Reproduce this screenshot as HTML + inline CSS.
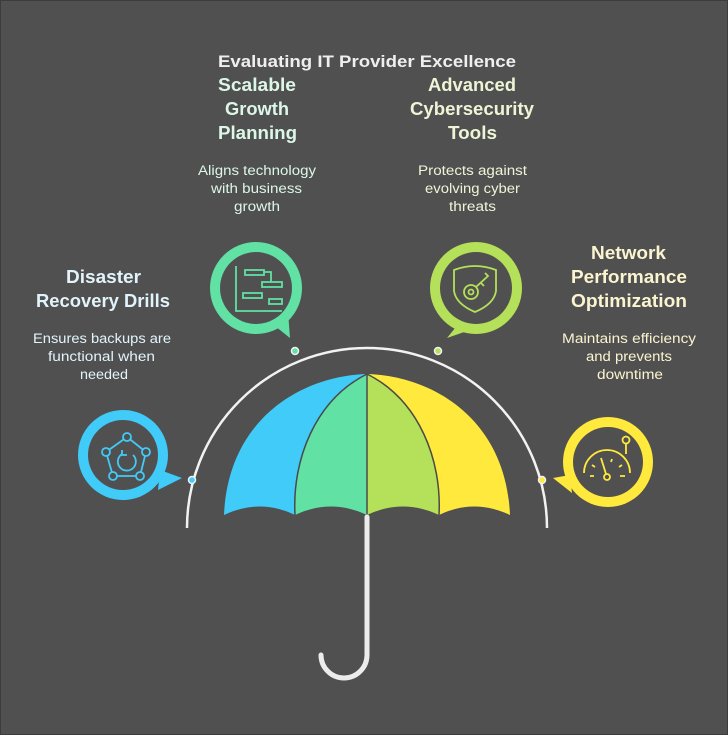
<!DOCTYPE html>
<html><head><meta charset="utf-8"><style>
html,body{margin:0;padding:0;background:#505050;}
svg{display:block}
text{font-family:"Liberation Sans",sans-serif;text-anchor:start}
.h{font-weight:bold;font-size:18px}
.b{font-size:13.5px}
</style></head><body>
<svg width="728" height="735" viewBox="0 0 728 735" xmlns="http://www.w3.org/2000/svg">
<rect x="0.5" y="0.5" width="727" height="734" fill="#505050" stroke="#3c3c3c"/>
<path d="M187 528 A180 180 0 0 1 547 528" fill="none" stroke="#f2f2f2" stroke-width="2.5"/>
<path d="M367 374 C300 376 228 420 224 515 Q260 498 295 515 C292 460 315 400 367 374Z" fill="#40cbf9"/>
<path d="M367 374 C315 400 292 460 295 515 Q331 498 367 515Z" fill="#61e1a4"/>
<path d="M367 374 L367 515 Q403 498 439 515 C442 460 419 400 367 374Z" fill="#b4e05a"/>
<path d="M367 374 C434 376 506 420 510 515 Q474 498 439 515 C442 460 419 400 367 374Z" fill="#ffe93c"/>
<path d="M367 374 C315 400 292 460 295 515 M367 374 L367 515 M367 374 C419 400 442 460 439 515" fill="none" stroke="#4a4a4a" stroke-width="1.5"/>
<path d="M367 517 L367 655 A23 23 0 0 1 321 655" fill="none" stroke="#ececec" stroke-width="5" stroke-linecap="round"/>
<circle cx="192" cy="480" r="3.5" fill="#40cbf9" stroke="#f2f2f2" stroke-width="1.5"/>
<circle cx="295" cy="351" r="3.5" fill="#61e1a4" stroke="#f2f2f2" stroke-width="1.5"/>
<circle cx="438" cy="351" r="3.5" fill="#b4e05a" stroke="#f2f2f2" stroke-width="1.5"/>
<circle cx="542" cy="480" r="3.5" fill="#ffe93c" stroke="#f2f2f2" stroke-width="1.5"/>
<g>
<circle cx="256" cy="288" r="46" fill="#61e1a4"/><path d="M270 322 L290 338 L288 312Z" fill="#61e1a4"/>
<circle cx="256" cy="288" r="36" fill="#505050"/>
<g fill="none" stroke="#61e1a4" stroke-width="1.8">
<path d="M236 266 V311 H282"/><rect x="245" y="270" width="19" height="5"/><rect x="262" y="282" width="20" height="5"/><rect x="243" y="293" width="19" height="5"/><rect x="269" y="299" width="13" height="5"/><path d="M264 272 H271 V282"/>
</g>
</g>
<g>
<circle cx="476" cy="288" r="46" fill="#b4e05a"/><path d="M460 322 L447 338 L470 330Z" fill="#b4e05a"/>
<circle cx="476" cy="288" r="36" fill="#505050"/>
<g fill="none" stroke="#b4e05a" stroke-width="1.8">
<path d="M454 270 Q475 262 496 270 V291 Q494 304 475 312 Q456 304 454 291Z"/><circle cx="471" cy="292" r="7"/><circle cx="471" cy="292" r="2.5"/><path d="M476 287 L488 276 L485 273 M481 283 L484 286"/>
</g>
</g>
<g>
<circle cx="123" cy="455" r="45" fill="#40cbf9"/><path d="M160 470 L182 478 L158 490Z" fill="#40cbf9"/>
<circle cx="123" cy="455" r="35" fill="#505050"/>
<g fill="none" stroke="#40cbf9" stroke-width="1.8">
<path d="M127 437 L146 452 L140 476 L113 476 L106 452Z"/>
<circle cx="127" cy="437" r="4" fill="#505050"/><circle cx="146" cy="452" r="4" fill="#505050"/><circle cx="140" cy="476" r="4" fill="#505050"/><circle cx="113" cy="476" r="4" fill="#505050"/><circle cx="106" cy="452" r="4" fill="#505050"/>
<path d="M122 454 A9 9 0 1 0 133 455"/><path d="M122 450 L122 455 L127 455"/>
</g>
</g>
<g>
<circle cx="608" cy="462" r="45" fill="#ffe93c"/><path d="M570 475 L553 478 L572 493Z" fill="#ffe93c"/>
<circle cx="608" cy="462" r="35" fill="#505050"/>
<g fill="none" stroke="#ffe93c" stroke-width="1.8">
<circle cx="626" cy="440" r="3.5"/><path d="M626 444 V454"/><path d="M584 473 A22 22 0 0 1 630 473"/>
<path d="M601 458 L606 474"/><circle cx="607" cy="477" r="3"/>
<path d="M590 476 H594 M620 476 H625 M592 465 L595 467 M622 465 L619 467 M612 459 L611 462"/>
</g>
</g>
<text x="218" y="67" font-weight="bold" fill="#efefef" textLength="298" lengthAdjust="spacingAndGlyphs" style="font-size:17px">Evaluating IT Provider Excellence</text>
<g fill="#dcf7e8">
<text x="218" y="91" textLength="78" lengthAdjust="spacingAndGlyphs" class="h">Scalable</text>
<text x="225" y="115" textLength="64" lengthAdjust="spacingAndGlyphs" class="h">Growth</text>
<text x="218" y="139" textLength="79" lengthAdjust="spacingAndGlyphs" class="h">Planning</text>
<text x="198" y="175" class="b" textLength="118" lengthAdjust="spacingAndGlyphs">Aligns technology</text>
<text x="211" y="193" class="b" textLength="91" lengthAdjust="spacingAndGlyphs">with business</text>
<text x="234" y="211" class="b" textLength="46" lengthAdjust="spacingAndGlyphs">growth</text>
</g>
<g fill="#eef5d6">
<text x="428" y="91" class="h" textLength="88" lengthAdjust="spacingAndGlyphs">Advanced</text>
<text x="410" y="115" class="h" textLength="124" lengthAdjust="spacingAndGlyphs">Cybersecurity</text>
<text x="448" y="139" class="h" textLength="49" lengthAdjust="spacingAndGlyphs">Tools</text>
<text x="418" y="175" class="b" textLength="109" lengthAdjust="spacingAndGlyphs">Protects against</text>
<text x="425" y="193" class="b" textLength="95" lengthAdjust="spacingAndGlyphs">evolving cyber</text>
<text x="449" y="211" class="b" textLength="47" lengthAdjust="spacingAndGlyphs">threats</text>
</g>
<g fill="#e2f4fb">
<text x="66" y="283" class="h" textLength="75" lengthAdjust="spacingAndGlyphs">Disaster</text>
<text x="36" y="307" class="h" textLength="134" lengthAdjust="spacingAndGlyphs">Recovery Drills</text>
<text x="33" y="343" class="b" textLength="138" lengthAdjust="spacingAndGlyphs">Ensures backups are</text>
<text x="48" y="361" class="b" textLength="107" lengthAdjust="spacingAndGlyphs">functional when</text>
<text x="80" y="379" class="b" textLength="48" lengthAdjust="spacingAndGlyphs">needed</text>
</g>
<g fill="#fbf4d0">
<text x="591" y="259" class="h" textLength="75" lengthAdjust="spacingAndGlyphs">Network</text>
<text x="571" y="283" class="h" textLength="116" lengthAdjust="spacingAndGlyphs">Performance</text>
<text x="571" y="307" class="h" textLength="116" lengthAdjust="spacingAndGlyphs">Optimization</text>
<text x="562" y="343" class="b" textLength="134" lengthAdjust="spacingAndGlyphs">Maintains efficiency</text>
<text x="586" y="361" class="b" textLength="86" lengthAdjust="spacingAndGlyphs">and prevents</text>
<text x="597" y="379" class="b" textLength="66" lengthAdjust="spacingAndGlyphs">downtime</text>
</g>
</svg>
</body></html>
